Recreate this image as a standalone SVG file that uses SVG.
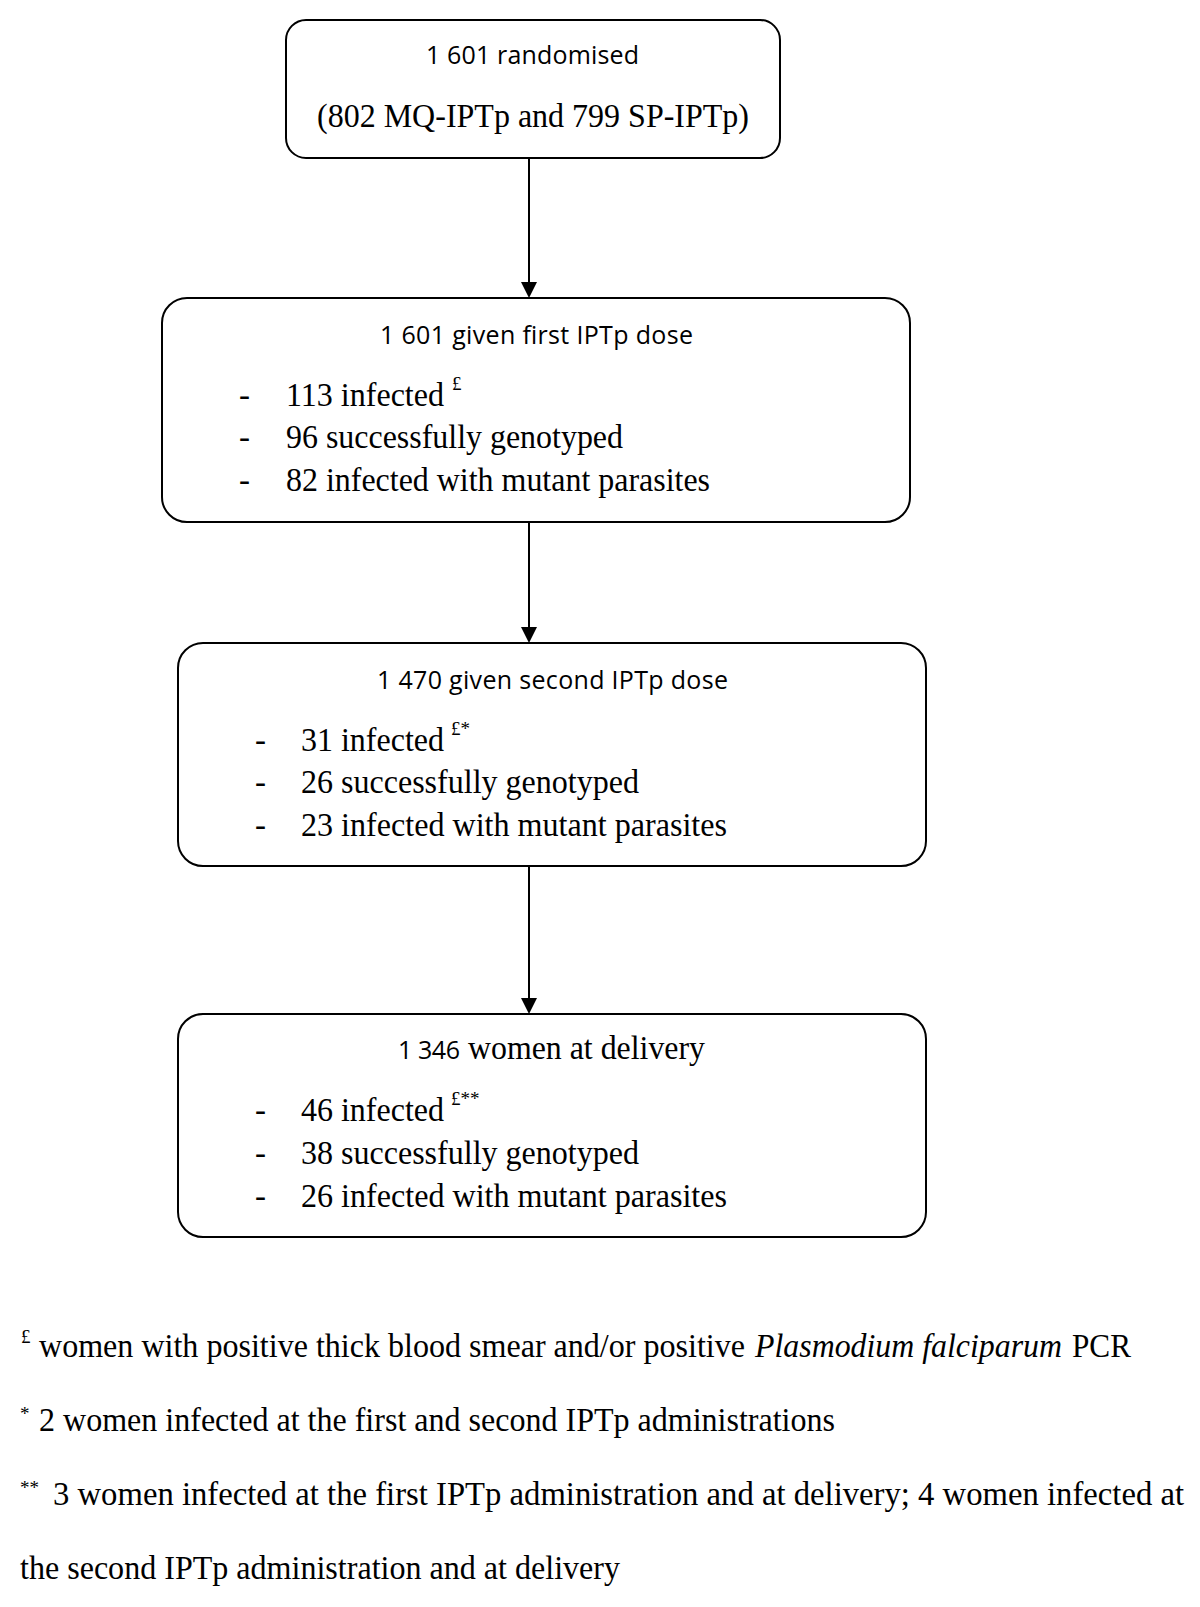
<svg xmlns="http://www.w3.org/2000/svg" width="1200" height="1607" viewBox="0 0 1200 1607">
<defs>
<style>
.box{fill:#fff;stroke:#000;stroke-width:2}
.sans{font-family:"Open Sans","Liberation Sans",sans-serif;font-size:25px;fill:#000}
.serif{font-family:"Liberation Serif","Times New Roman",serif;font-size:33px;fill:#000}
.sup{font-family:"Liberation Serif","Times New Roman",serif;font-size:19px;fill:#000}
.conn{stroke:#000;stroke-width:2;fill:none}
</style>
</defs>
<rect width="1200" height="1607" fill="#fff"/>

<g id="connectors">
<line class="conn" x1="529" y1="159" x2="529" y2="282"/>
<path d="M521,282 L537,282 L529,298 z" fill="#000"/>
<line class="conn" x1="529" y1="522" x2="529" y2="627"/>
<path d="M521,627 L537,627 L529,643 z" fill="#000"/>
<line class="conn" x1="529" y1="866" x2="529" y2="998"/>
<path d="M521,998 L537,998 L529,1014 z" fill="#000"/>
</g>

<g id="node-randomised">
<rect class="box" x="286" y="20" width="494" height="138" rx="20"/>
<text class="sans" x="426" y="64" textLength="213">1 601 randomised</text>
<text class="serif" x="317" y="127" textLength="432" lengthAdjust="spacingAndGlyphs">(802 MQ-IPTp and 799 SP-IPTp)</text>
</g>

<g id="node-first-dose">
<rect class="box" x="162" y="298" width="748" height="224" rx="25"/>
<text class="sans" x="380" y="344" textLength="313">1 601 given first IPTp dose</text>
<text class="serif" x="239" y="406">-</text>
<text class="serif" x="286" y="406" textLength="158" lengthAdjust="spacingAndGlyphs">113 infected</text>
<text class="sup" x="452" y="390">£</text>
<text class="serif" x="239" y="448">-</text>
<text class="serif" x="286" y="448" textLength="337" lengthAdjust="spacingAndGlyphs">96 successfully genotyped</text>
<text class="serif" x="239" y="491">-</text>
<text class="serif" x="286" y="491" textLength="424" lengthAdjust="spacingAndGlyphs">82 infected with mutant parasites</text>
</g>

<g id="node-second-dose">
<rect class="box" x="178" y="643" width="748" height="223" rx="25"/>
<text class="sans" x="377" y="689" textLength="351">1 470 given second IPTp dose</text>
<text class="serif" x="255" y="751">-</text>
<text class="serif" x="301" y="751" textLength="143" lengthAdjust="spacingAndGlyphs">31 infected</text>
<text class="sup" x="451" y="735">£*</text>
<text class="serif" x="255" y="793">-</text>
<text class="serif" x="301" y="793" textLength="338" lengthAdjust="spacingAndGlyphs">26 successfully genotyped</text>
<text class="serif" x="255" y="836">-</text>
<text class="serif" x="301" y="836" textLength="426" lengthAdjust="spacingAndGlyphs">23 infected with mutant parasites</text>
</g>

<g id="node-delivery">
<rect class="box" x="178" y="1014" width="748" height="223" rx="25"/>
<text class="sans" x="398" y="1059" textLength="62">1 346</text>
<text class="serif" x="468" y="1059" font-size="31" textLength="237" lengthAdjust="spacingAndGlyphs">women at delivery</text>
<text class="serif" x="255" y="1121">-</text>
<text class="serif" x="301" y="1121" textLength="143" lengthAdjust="spacingAndGlyphs">46 infected</text>
<text class="sup" x="451" y="1105">£**</text>
<text class="serif" x="255" y="1164">-</text>
<text class="serif" x="301" y="1164" textLength="338" lengthAdjust="spacingAndGlyphs">38 successfully genotyped</text>
<text class="serif" x="255" y="1207">-</text>
<text class="serif" x="301" y="1207" textLength="426" lengthAdjust="spacingAndGlyphs">26 infected with mutant parasites</text>
</g>

<g id="footnotes">
<text class="sup" x="21" y="1343">£</text>
<text class="serif" x="39" y="1357" textLength="706" lengthAdjust="spacingAndGlyphs">women with positive thick blood smear and/or positive</text>
<text class="serif" x="755" y="1357" font-style="italic" textLength="307" lengthAdjust="spacingAndGlyphs">Plasmodium falciparum</text>
<text class="serif" x="1072" y="1357" textLength="59" lengthAdjust="spacingAndGlyphs">PCR</text>
<text class="sup" x="20" y="1420">*</text>
<text class="serif" x="39" y="1431" textLength="796" lengthAdjust="spacingAndGlyphs">2 women infected at the first and second IPTp administrations</text>
<text class="sup" x="20" y="1494">**</text>
<text class="serif" x="53" y="1505" textLength="1131" lengthAdjust="spacingAndGlyphs">3 women infected at the first IPTp administration and at delivery; 4 women infected at</text>
<text class="serif" x="20" y="1579" textLength="600" lengthAdjust="spacingAndGlyphs">the second IPTp administration and at delivery</text>
</g>
</svg>
